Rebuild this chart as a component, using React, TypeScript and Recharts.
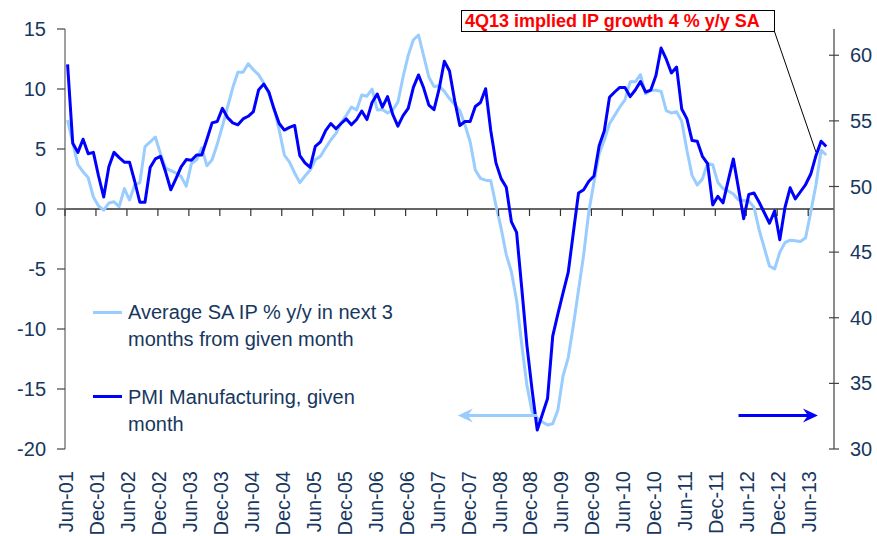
import { ComposedChart, Line, ReferenceLine, XAxis, YAxis } from 'recharts';

const W = 877;
const H = 536;
const TOP = 29;
const PLOT_H = 420;
const PLOT_W = 769;
const FONT = '"Liberation Sans", Arial, sans-serif';
const NAVY = '#17375E';
const LIGHT = '#99CCFF';
const DARK = '#0000FF';

const MONTH_NAMES = ['Jan', 'Feb', 'Mar', 'Apr', 'May', 'Jun', 'Jul', 'Aug', 'Sep', 'Oct', 'Nov', 'Dec'];
// Jun-01 .. Oct-13, one per month
const CATEGORIES = Array.from({ length: 149 }, (_, i) => {
  const k = 5 + i;
  return `${MONTH_NAMES[k % 12]}-${String(1 + Math.floor(k / 12)).padStart(2, '0')}`;
});

// Average SA IP % y/y in next 3 months (left axis)
const IP = [
  7.4, 5.5, 3.7, 3.1, 2.6, 1.0, 0.25, -0.1, 0.5, 0.6,
  0.2, 1.7, 0.75, 2.0, 2.2, 5.2, 5.6, 6.0, 4.6, 3.4,
  3.2, 3.0, 2.7, 1.9, 3.8, 4.1, 5.1, 3.6, 4.1, 5.4,
  6.9, 8.5, 10.1, 11.4, 11.4, 12.1, 11.6, 11.2, 10.5, 9.6,
  8.4, 6.6, 4.5, 3.9, 3.0, 2.2, 2.75, 3.25, 4.1, 4.4,
  5.1, 5.75, 6.3, 7.2, 7.8, 8.5, 8.25, 9.5, 9.4, 10.0,
  8.25, 8.3, 8.0, 8.25, 8.9, 11.0, 12.8, 14.1, 14.5, 12.75,
  11.0, 10.2, 10.25, 9.8, 9.2, 8.7, 8.2, 7.0, 5.6, 3.25,
  2.55, 2.4, 2.35, 0.3, -1.6, -3.8, -5.25, -7.6, -11.3, -14.7,
  -16.9, -17.4, -17.75, -18.0, -17.9, -16.75, -13.9, -12.4, -9.7, -6.75,
  -3.8, -0.2, 2.25, 4.6, 5.75, 7.1, 7.8, 8.5, 9.1, 10.6,
  10.6, 11.2, 9.6, 9.9, 9.9, 9.8, 8.2, 8.0, 8.1, 7.3,
  4.9, 2.8, 2.0, 2.5, 3.8, 3.7, 2.2, 1.7, 1.5, 1.25,
  0.75, 0.7, 0.65, 0.15, -1.75, -3.25, -4.75, -5.0, -3.6, -2.8,
  -2.6, -2.65, -2.7, -2.4, -0.25, 2.0, 4.9, 4.5, null,
];

// PMI Manufacturing, given month (right axis)
const PMI = [
  59.3, 53.3, 52.6, 53.6, 52.5, 52.6, 50.8, 49.2, 51.5, 52.6,
  52.2, 51.85, 51.85, 50.4, 48.8, 48.8, 51.45, 52.1, 52.3, 51.1,
  49.75, 50.6, 51.5, 52.05, 52.0, 52.4, 52.4, 53.6, 54.85, 54.95,
  55.95, 55.25, 54.85, 54.7, 55.15, 55.35, 55.7, 57.35, 57.8, 57.2,
  55.9, 54.8, 54.3, 54.5, 54.65, 52.35, 51.8, 51.45, 53.05, 53.4,
  54.25, 54.8, 54.4, 54.8, 55.15, 54.7, 55.1, 55.75, 55.1, 56.4,
  57.05, 56.05, 56.85, 55.5, 54.6, 55.4, 55.95, 57.55, 58.5, 57.5,
  56.2, 55.85, 57.45, 59.55, 58.8, 56.55, 54.65, 54.95, 54.95, 56.1,
  56.4, 57.45, 54.25, 51.8, 50.6, 49.95, 47.3, 46.5, 42.25, 37.9,
  34.5, 31.45, 32.65, 33.85, 38.6, 40.3, 41.9, 43.45, 46.5, 49.5,
  49.75, 50.4, 50.8, 53.1, 54.25, 56.8, 57.2, 57.55, 57.55, 56.85,
  57.35, 58.0, 57.2, 57.35, 58.45, 60.55, 59.7, 58.65, 59.1, 55.9,
  55.15, 53.5, 53.45, 52.3, 51.75, 48.6, 49.25, 48.75, 50.45, 52.1,
  49.85, 47.55, 49.4, 49.5, 48.8, 48.0, 47.2, 48.15, 45.95, 48.4,
  49.9, 49.05, 49.6, 50.15, 50.95, 52.35, 53.45, 53.05, null,
];

const LEFT_TICKS = [-20, -15, -10, -5, 0, 5, 10, 15];
const RIGHT_TICKS = [30, 35, 40, 45, 50, 55, 60];

const data = CATEGORIES.map((m, i) => ({ m, ip: IP[i], pmi: PMI[i] }));

const BAND = PLOT_W / CATEGORIES.length;
// y of the zero line on the left axis (-20..15)
const ZERO_Y = TOP + (PLOT_H * 15) / 35;

function MonthTick(props: any) {
  const { x, y, payload } = props;
  const tx = x - BAND / 2;
  return (
    <g>
      <line x1={tx} y1={ZERO_Y} x2={tx} y2={ZERO_Y + 7} stroke="#333" strokeWidth={1.2} />
      <text
        x={tx + 1}
        y={y}
        dy="0.35em"
        textAnchor="end"
        transform={`rotate(-90 ${tx + 1} ${y})`}
        fill={NAVY}
        fontSize={20}
        fontFamily={FONT}
      >
        {payload.value}
      </text>
    </g>
  );
}

function RightTick(props: any) {
  const { x, y, payload } = props;
  const ax = x - 16;
  return (
    <g>
      <line x1={ax - 5} y1={y} x2={ax + 5} y2={y} stroke="#444" strokeWidth={1.2} />
      <text x={x} y={y} dy="0.35em" textAnchor="start" fill={NAVY} fontSize={20} fontFamily={FONT}>
        {payload.value}
      </text>
    </g>
  );
}

// line with a stealth arrowhead at (x2, y2)
const arrow = (color: string) => (p: any) => {
  const dir = p.x2 >= p.x1 ? 1 : -1;
  const tip = p.x2 + dir * 2;
  const y = p.y2;
  return (
    <g>
      <line x1={p.x1} y1={p.y1} x2={tip - dir * 9} y2={y} stroke={color} strokeWidth={3} />
      <polygon
        points={`${tip},${y} ${tip - dir * 15},${y - 7} ${tip - dir * 10},${y} ${tip - dir * 15},${y + 7}`}
        fill={color}
      />
    </g>
  );
};

export default function App() {
  return (
    <div style={{ position: 'relative', width: W, height: H, overflow: 'hidden', background: '#fff', fontFamily: FONT }}>
      <style>{'body{margin:0}'}</style>
      <ComposedChart width={W} height={H} data={data} margin={{ top: TOP, right: 0, bottom: 0, left: 0 }}>
        <XAxis
          dataKey="m"
          scale="band"
          interval={5}
          height={87}
          axisLine={false}
          tickLine={false}
          tickSize={0}
          tickMargin={22}
          tick={<MonthTick />}
        />
        <YAxis
          yAxisId="l"
          width={65}
          domain={[-20, 15]}
          ticks={LEFT_TICKS}
          allowDataOverflow
          axisLine={{ stroke: '#808080', strokeWidth: 1.5 }}
          tickLine={{ stroke: '#444', strokeWidth: 1.2 }}
          tickSize={8}
          tickMargin={11}
          tick={{ fill: NAVY, fontSize: 20, fontFamily: FONT }}
        />
        <YAxis
          yAxisId="r"
          orientation="right"
          width={43}
          domain={[30, 62]}
          ticks={RIGHT_TICKS}
          allowDataOverflow
          axisLine={{ stroke: '#666', strokeWidth: 1.5 }}
          tickLine={false}
          tickSize={6}
          tickMargin={10}
          tick={<RightTick />}
        />
        <ReferenceLine yAxisId="l" y={0} stroke="#333" strokeWidth={1.5} />
        <Line
          yAxisId="l"
          dataKey="ip"
          stroke={LIGHT}
          strokeWidth={3}
          dot={false}
          strokeLinejoin="round"
          isAnimationActive={false}
        />
        <Line
          yAxisId="r"
          dataKey="pmi"
          stroke={DARK}
          strokeWidth={3}
          dot={false}
          strokeLinejoin="round"
          isAnimationActive={false}
        />
        <ReferenceLine
          yAxisId="l"
          segment={[{ x: 'Jan-09', y: -17.2 }, { x: 'Oct-07', y: -17.2 }]}
          shape={arrow(LIGHT)}
        />
        <ReferenceLine
          yAxisId="l"
          segment={[{ x: 'Apr-12', y: -17.2 }, { x: 'Jul-13', y: -17.2 }]}
          shape={arrow(DARK)}
        />
        <ReferenceLine
          yAxisId="l"
          segment={[{ x: 'Nov-12', y: 14.75 }, { x: 'Jul-13', y: 4.75 }]}
          stroke="#000"
          strokeWidth={1}
        />
      </ComposedChart>

      {/* legend */}
      <div style={{ position: 'absolute', left: 93, top: 311, width: 29, height: 3, background: LIGHT }} />
      <div style={{ position: 'absolute', left: 128, top: 299, fontSize: 20, lineHeight: '27px', color: NAVY, whiteSpace: 'nowrap' }}>
        Average SA IP % y/y in next 3
        <br />
        months from given month
      </div>
      <div style={{ position: 'absolute', left: 93, top: 395, width: 29, height: 3, background: DARK }} />
      <div style={{ position: 'absolute', left: 128, top: 384, fontSize: 20, lineHeight: '27px', color: NAVY, whiteSpace: 'nowrap' }}>
        PMI Manufacturing, given
        <br />
        month
      </div>

      {/* annotation */}
      <div
        style={{
          position: 'absolute',
          left: 461,
          top: 10,
          width: 314,
          height: 22,
          boxSizing: 'border-box',
          border: '1px solid #000',
          background: '#fff',
          color: '#FF0000',
          fontWeight: 'bold',
          fontSize: 18,
          lineHeight: '20px',
          paddingLeft: 3,
          whiteSpace: 'nowrap',
        }}
      >
        4Q13 implied IP growth 4 % y/y SA
      </div>
    </div>
  );
}
